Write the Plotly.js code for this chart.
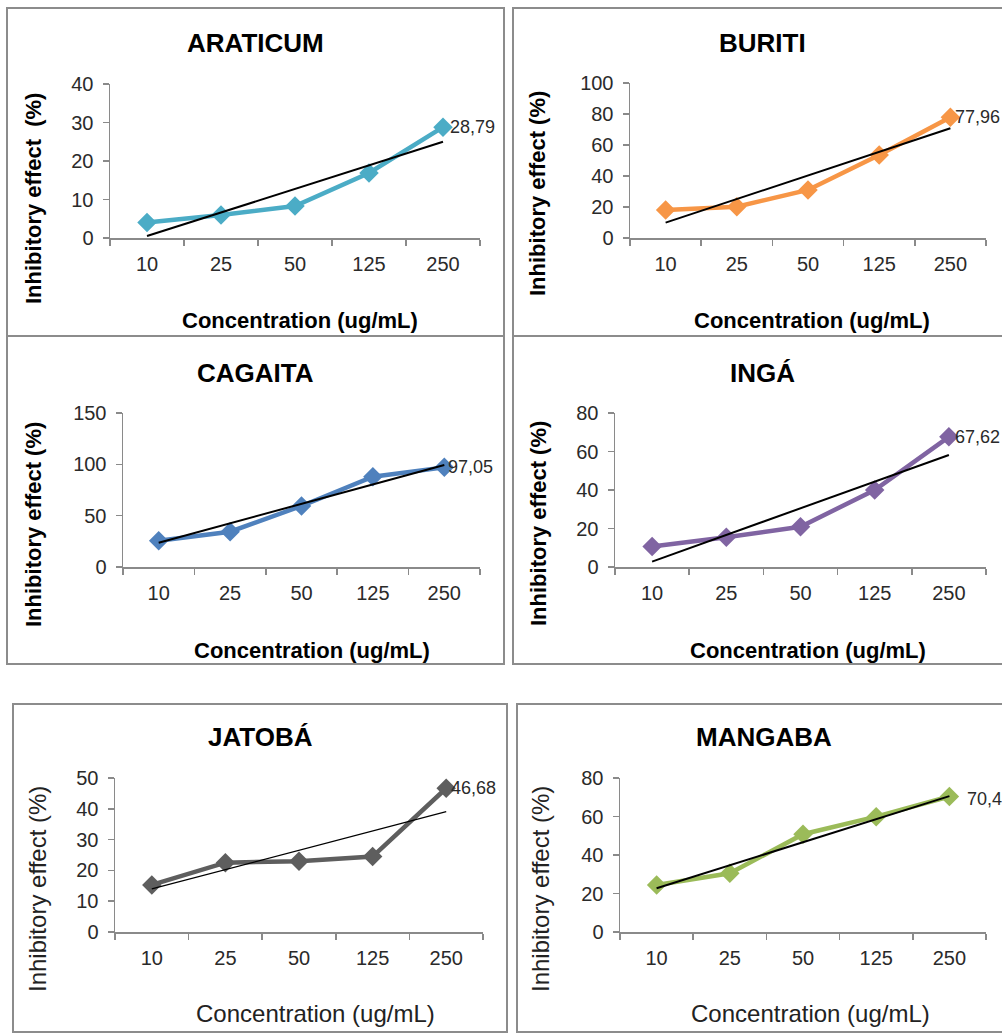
<!DOCTYPE html>
<html>
<head>
<meta charset="utf-8">
<script src="https://cdn.plot.ly/plotly-3.0.1.min.js"></script>
<style>html,body{margin:0;padding:0;background:#fff;}#chart{width:1002px;height:1036px;}</style>
</head>
<body>
<div id="chart"></div>
<script>
// ---- data ----
const categories = ['10', '25', '50', '125', '250'];
const panelTitles = ['ARATICUM', 'BURITI', 'CAGAITA', 'INGÁ', 'JATOBÁ', 'MANGABA'];
const araticum = [4.0, 6.0, 8.3, 16.9, 28.79];
const buriti   = [18.0, 20.2, 31.0, 53.5, 77.96];
const cagaita  = [25.6, 34.4, 59.4, 88.0, 97.05];
const inga     = [10.6, 15.4, 20.9, 40.0, 67.62];
const jatoba   = [15.3, 22.5, 23.0, 24.5, 46.68];
const mangaba  = [24.4, 30.5, 50.8, 59.9, 70.4];
// linear trendline end values (at 10 and at 250)
const araticumTrend = [0.5, 25.0];
const buritiTrend   = [9.9, 70.8];
const cagaitaTrend  = [23.7, 99.3];
const ingaTrend     = [2.8, 58.2];
const jatobaTrend   = [14.0, 39.1];
const mangabaTrend  = [22.7, 70.6];
const yMax  = [40, 100, 150, 80, 50, 80];
const yStep = [10, 20, 50, 20, 10, 20];
const xTitleText = 'Concentration (ug/mL)';
const yTitleTexts = ['Inhibitory effect  (%)', 'Inhibitory effect (%)', 'Inhibitory effect (%)',
                     'Inhibitory effect (%)', 'Inhibitory effect (%)', 'Inhibitory effect (%)'];

// ---- layout / style config ----
const W = 1002, H = 1036;
const series = [araticum, buriti, cagaita, inga, jatoba, mangaba];
const trends = [araticumTrend, buritiTrend, cagaitaTrend, ingaTrend, jatobaTrend, mangabaTrend];
const colors = ['#4BACC6', '#F79646', '#4F81BD', '#8064A2', '#5E5E5E', '#9BBB59'];
// plot-area pixel boxes: x0,x1 (axis span), yTop,yBottom
const boxes = [
  [110, 480, 84, 238],
  [630, 986, 83, 238],
  [123, 480, 413, 567],
  [615, 986, 413, 567],
  [115, 483, 778, 932],
  [620, 986, 778, 932]
];
// panel frames
const frames = [
  [7, 504, 8, 336],
  [513, 1006, 8, 336],
  [7, 504, 336, 664],
  [513, 1006, 336, 664],
  [13, 507, 704, 1032],
  [517, 1006, 704, 1032]
];
const titlePos = [[256, 43], [762, 43], [255, 373], [762, 373], [260, 737], [764, 737]];
const xTitlePos = [[300, 320], [812, 320], [312, 650], [808, 650], [315, 1013], [810, 1013]];
const yTitlePos = [[33, 199], [538, 194], [33, 525], [538, 524], [37, 889], [540, 889]];
const labelShift = [5, 3, 2, 4, 3, 16];
const labelYShift = [0, 0, 0, 0, 0, -3];
const boldAxisText = [true, true, true, true, false, false];

const FONT = 'Liberation Sans, Arial, sans-serif';
const px = x => x / W;
const py = y => 1 - y / H;

const traces = [];
const layout = {
  width: W, height: H,
  margin: {l: 0, r: 0, t: 0, b: 0},
  paper_bgcolor: '#ffffff',
  plot_bgcolor: 'rgba(0,0,0,0)',
  showlegend: false,
  annotations: [],
  shapes: []
};

for (let i = 0; i < 6; i++) {
  const n = i === 0 ? '' : String(i + 1);
  const xa = 'x' + n, ya = 'y' + n;
  const b = boxes[i];
  const tickFont = {family: FONT, size: 20, color: '#2a2a2a'};
  layout['xaxis' + n] = {
    domain: [px(b[0]), px(b[1])],
    anchor: ya,
    type: 'category',
    categoryorder: 'array',
    categoryarray: categories,
    range: [-0.5, categories.length - 0.5],
    showline: true, linecolor: '#8a8a8a', linewidth: 1.5,
    ticks: 'outside', ticklen: 6, tickwidth: 1.5, tickcolor: '#8a8a8a',
    tickson: 'boundaries',
    showgrid: false, zeroline: false,
    tickfont: tickFont,
    ticklabelstandoff: 7,
    fixedrange: true
  };
  layout['yaxis' + n] = {
    domain: [py(b[3]), py(b[2])],
    anchor: xa,
    range: [0, yMax[i]],
    dtick: yStep[i], tick0: 0,
    showline: true, linecolor: '#8a8a8a', linewidth: 1.5,
    ticks: 'outside', ticklen: 6, tickwidth: 1.5, tickcolor: '#8a8a8a',
    showgrid: false, zeroline: false,
    tickfont: tickFont,
    ticklabelstandoff: 5,
    fixedrange: true
  };

  // data line with diamonds
  traces.push({
    type: 'scatter', mode: 'lines+markers',
    x: categories, y: series[i],
    xaxis: xa, yaxis: ya,
    line: {color: colors[i], width: 4.5},
    marker: {symbol: 'diamond', size: 15, color: colors[i]},
    cliponaxis: false,
    hoverinfo: 'x+y'
  });
  // linear trendline
  traces.push({
    type: 'scatter', mode: 'lines',
    x: [categories[0], categories[categories.length - 1]], y: trends[i],
    xaxis: xa, yaxis: ya,
    line: {color: '#000000', width: i === 4 ? 1.2 : 2},
    cliponaxis: false,
    hoverinfo: 'skip'
  });

  // last-point value label
  const lastIdx = series[i].length - 1;
  const last = series[i][lastIdx];
  layout.annotations.push({
    xref: xa, yref: ya,
    x: lastIdx, y: last,
    text: String(last).replace('.', ','),
    showarrow: false, xanchor: 'left', yanchor: 'middle',
    xshift: labelShift[i], yshift: labelYShift[i],
    font: {family: FONT, size: 18, color: '#2a2a2a'}
  });

  // panel title
  layout.annotations.push({
    xref: 'paper', yref: 'paper',
    x: px(titlePos[i][0]), y: py(titlePos[i][1]),
    text: panelTitles[i], showarrow: false,
    xanchor: 'center', yanchor: 'middle',
    font: {family: FONT, size: 26, color: '#000000', weight: 'bold'}
  });
  const axFont = {family: FONT, size: boldAxisText[i] ? 22 : 24,
                  color: boldAxisText[i] ? '#000000' : '#222222',
                  weight: boldAxisText[i] ? 'bold' : 'normal'};
  // x axis title
  layout.annotations.push({
    xref: 'paper', yref: 'paper',
    x: px(xTitlePos[i][0]), y: py(xTitlePos[i][1]),
    text: xTitleText, showarrow: false,
    xanchor: 'center', yanchor: 'middle',
    font: axFont
  });
  // y axis title
  layout.annotations.push({
    xref: 'paper', yref: 'paper',
    x: px(yTitlePos[i][0]), y: py(yTitlePos[i][1]),
    text: yTitleTexts[i], showarrow: false, textangle: -90,
    xanchor: 'center', yanchor: 'middle',
    font: axFont
  });

  // panel frame
  const f = frames[i];
  layout.shapes.push({
    type: 'rect', xref: 'paper', yref: 'paper',
    x0: px(f[0]), x1: px(f[1]), y0: py(f[3]), y1: py(f[2]),
    line: {color: '#8c8c8c', width: 2},
    fillcolor: 'rgba(0,0,0,0)', layer: 'below'
  });
}

Plotly.newPlot('chart', traces, layout, {displayModeBar: false, staticPlot: true});
</script>
</body>
</html>
